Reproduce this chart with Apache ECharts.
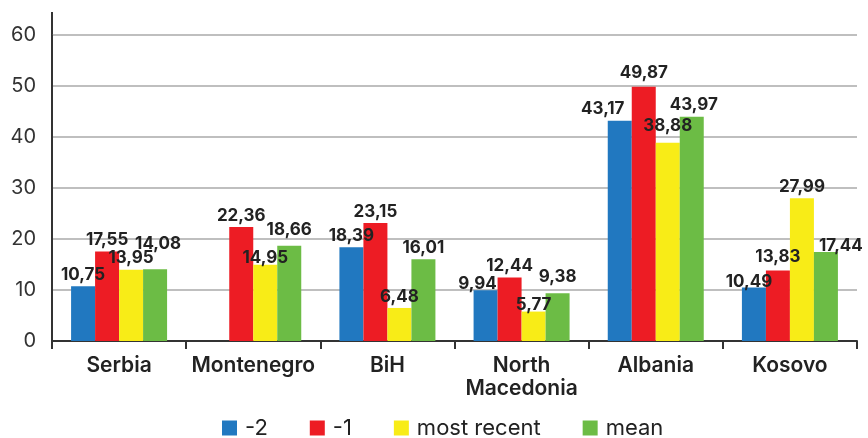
<!DOCTYPE html>
<html>
<head>
<meta charset="utf-8">
<script src="https://cdn.jsdelivr.net/npm/echarts@6/dist/echarts.min.js"></script>
<style>
  html, body { margin: 0; padding: 0; background: #fff; }
  #chart { width: 868px; height: 438px; }
</style>
</head>
<body>
<div id="chart"></div>
<script>
// Countries on the category axis
const categories = ['Serbia', 'Montenegro', 'BiH', 'North\nMacedonia', 'Albania', 'Kosovo'];

// Series values per country (null = no value reported)
const seriesNames = ['-2', '-1', 'most recent', 'mean'];
const valsMinus2 = [10.75, null, 18.39, 9.94, 43.17, 10.49];
const valsMinus1 = [17.55, 22.36, 23.15, 12.44, 49.87, 13.83];
const valsRecent = [13.95, 14.95, 6.48, 5.77, 38.88, 27.99];
const valsMean = [14.08, 18.66, 16.01, 9.38, 43.97, 17.44];

// Value-axis ticks
const yTicks = [0, 10, 20, 30, 40, 50, 60];

// Small nudges [dx, dy] for value labels that would otherwise collide
const labelNudges = [
  [[0, 0], [0, 0], [0, 0], [-8, 5], [-17, 0], [-5, 6]],
  [[0, 0], [0, 0], [0, 0], [0, 0], [0, -2], [0, -2]],
  [[0, 0], [0, 5], [0, 0], [0, 5], [0, -5], [0, 0]],
  [[3, -14], [0, -4], [0, 0], [0, -5], [2, 0], [15, 5]]
];

const colors = ['#2178c0', '#ed1c24', '#f8ec17', '#6cbc45'];
const FONT = 'Inter, "Liberation Sans", Arial, sans-serif';

const fmt = p => (p.value == null ? '' : Number(p.value).toFixed(2).replace('.', ','));

function bar(idx, data) {
  return {
    name: seriesNames[idx],
    type: 'bar',
    data: data.map((v, i) => ({ value: v, label: { offset: labelNudges[idx][i] } })),
    barWidth: 24,
    barGap: '0%',
    itemStyle: { color: colors[idx] },
    label: {
      show: true,
      position: 'top',
      distance: 3,
      formatter: fmt,
      color: '#222',
      fontFamily: FONT,
      fontWeight: 'bold',
      fontSize: 17
    }
  };
}

const chart = echarts.init(document.getElementById('chart'), null, { renderer: 'canvas' });

const gridLeft = 52, gridTop = 35;

chart.setOption({
  animation: false,
  backgroundColor: '#fff',
  color: colors,
  grid: { left: gridLeft, right: 11, top: gridTop, bottom: 97, containLabel: false },
  legend: {
    data: seriesNames,
    top: 412,
    left: 217,
    itemWidth: 15,
    itemHeight: 15,
    itemGap: 42,
    icon: 'rect',
    textStyle: { fontFamily: FONT, fontSize: 22, color: '#222', padding: [0, 0, 0, 3] }
  },
  xAxis: {
    type: 'category',
    data: categories,
    axisLine: { show: true, lineStyle: { color: '#333', width: 2 } },
    axisTick: { show: true, length: 8, alignWithLabel: false, lineStyle: { color: '#333', width: 2 } },
    axisLabel: {
      interval: 0,
      margin: 13,
      fontFamily: FONT,
      fontSize: 21,
      fontWeight: 600,
      color: '#222',
      lineHeight: 23
    }
  },
  yAxis: {
    type: 'value',
    min: yTicks[0],
    max: yTicks[yTicks.length - 1],
    interval: 10,
    axisLine: { show: true, lineStyle: { color: '#333', width: 2 } },
    axisTick: { show: false },
    splitLine: { show: true, lineStyle: { color: '#aaa', width: 1.5 } },
    axisLabel: { margin: 16, fontFamily: FONT, fontSize: 20, color: '#333' }
  },
  // the value axis line continues a little above the top gridline
  graphic: [{
    type: 'line',
    shape: { x1: gridLeft, y1: gridTop, x2: gridLeft, y2: 12 },
    style: { stroke: '#333', lineWidth: 2 }
  }],
  series: [
    bar(0, valsMinus2),
    bar(1, valsMinus1),
    bar(2, valsRecent),
    bar(3, valsMean)
  ]
});
</script>
</body>
</html>
